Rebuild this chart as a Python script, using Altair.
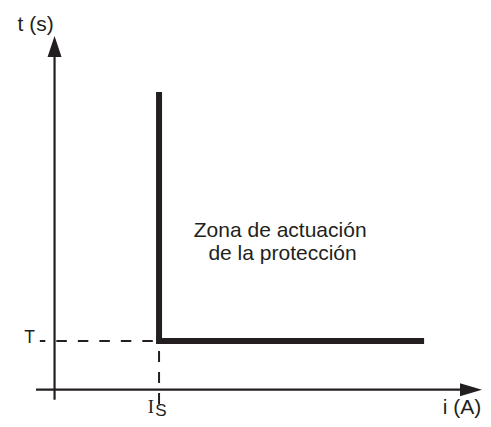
import altair as alt
import pandas as pd

# ---- values (schematic units) ----
IS = 2.2          # pickup current I_s
T = 1.2           # definite time T
curve_x = [IS, IS, 7.78]
curve_y = [7.35, T, T]
curve_order = [0, 1, 2]

# axes extents
xaxis_x = [-0.39, 8.74]
yaxis_y = [-0.25, 8.45]
x_arrow = [8.767, 0.0]
y_arrow = [0.0, 8.474]

# guide (dashed) lines
hdash_x = [-0.31, IS]
vdash_y = [T, -0.38]

# labels
sans_text = ["t (s)", "i (A)", "Zona de actuación", "de la protección"]
sans_x = [-0.40, 8.58, 4.75, 4.80]
sans_y = [8.867, -0.60, 3.78, 3.203]
t_text = ["T"]
t_x = [-0.527]
t_y = [1.153]
is_main = ["I"]
is_main_x = [2.03]
is_main_y = [-0.58]
is_sub = ["S"]
is_sub_x = [2.24]
is_sub_y = [-0.66]

INK = "#231f20"
xs = alt.Scale(domain=[-0.98, 9.02])
ys = alt.Scale(domain=[-0.575, 9.425])

curve = pd.DataFrame({"x": curve_x, "y": curve_y, "o": curve_order})
axes_df = pd.DataFrame({"x": [0.0], "y": [0.0],
                        "x1": [xaxis_x[0]], "x2": [xaxis_x[1]],
                        "y1": [yaxis_y[0]], "y2": [yaxis_y[1]]})
hd = pd.DataFrame({"x": [hdash_x[0]], "x2": [hdash_x[1]], "y": [T]})
vd = pd.DataFrame({"x": [IS], "y": [vdash_y[0]], "y2": [vdash_y[1]]})
xa = pd.DataFrame({"x": [x_arrow[0]], "y": [x_arrow[1]]})
ya = pd.DataFrame({"x": [y_arrow[0]], "y": [y_arrow[1]]})
sans = pd.DataFrame({"t": sans_text, "x": sans_x, "y": sans_y})
tl = pd.DataFrame({"t": t_text, "x": t_x, "y": t_y})
im = pd.DataFrame({"t": is_main, "x": is_main_x, "y": is_main_y})
isb = pd.DataFrame({"t": is_sub, "x": is_sub_x, "y": is_sub_y})

X = lambda f="x": alt.X(f"{f}:Q", scale=xs, axis=None)
Y = lambda f="y": alt.Y(f"{f}:Q", scale=ys, axis=None)

xaxis = alt.Chart(axes_df).mark_rule(color=INK, strokeWidth=2.2).encode(
    x=X("x1"), x2="x2:Q", y=Y("y"))
yaxis = alt.Chart(axes_df).mark_rule(color=INK, strokeWidth=2.2).encode(
    x=X("x"), y=Y("y1"), y2="y2:Q")
xarrow = alt.Chart(xa).mark_point(
    shape="M1,0L-1,0.59L-1,-0.59Z", size=484, filled=True, fill=INK,
    opacity=1).encode(x=X(), y=Y())
yarrow = alt.Chart(ya).mark_point(
    shape="M0,-1L0.667,1L-0.667,1Z", size=441, filled=True, fill=INK,
    opacity=1).encode(x=X(), y=Y())

hdash = alt.Chart(hd).mark_rule(color=INK, strokeWidth=2, strokeDash=[10.5, 11],
                                strokeDashOffset=5).encode(x=X(), x2="x2:Q", y=Y())
vdash = alt.Chart(vd).mark_rule(color=INK, strokeWidth=2, strokeDash=[11, 10],
                                strokeDashOffset=11).encode(x=X(), y=Y(), y2="y2:Q")

line = alt.Chart(curve).mark_line(color=INK, strokeWidth=6, strokeJoin="miter",
                                  strokeCap="butt").encode(
    x=X(), y=Y(), order="o:Q")

sans_txt = alt.Chart(sans).mark_text(font="Liberation Sans", fontSize=21, color=INK,
                                     align="center", baseline="alphabetic").encode(
    x=X(), y=Y(), text="t:N")
t_txt = alt.Chart(tl).mark_text(font="Liberation Sans", fontSize=17.5, color=INK,
                                align="center", baseline="alphabetic").encode(
    x=X(), y=Y(), text="t:N")
i_txt = alt.Chart(im).mark_text(font="Liberation Serif", fontSize=19, color=INK,
                                align="center", baseline="alphabetic").encode(
    x=X(), y=Y(), text="t:N")
s_txt = alt.Chart(isb).mark_text(font="Liberation Sans", fontSize=17, color=INK,
                                 align="center", baseline="alphabetic").encode(
    x=X(), y=Y(), text="t:N")

chart = alt.layer(hdash, vdash, xaxis, yaxis, xarrow, yarrow, line,
                  sans_txt, t_txt, i_txt, s_txt).properties(
    width=475, height=405,
    background="white",
    autosize=alt.AutoSizeParams(type="none"),
    padding={"left": 0, "top": 0, "right": 0, "bottom": 6},
).configure_view(stroke=None)

chart.save("out.html", embed_options={"renderer": "svg", "actions": False})
